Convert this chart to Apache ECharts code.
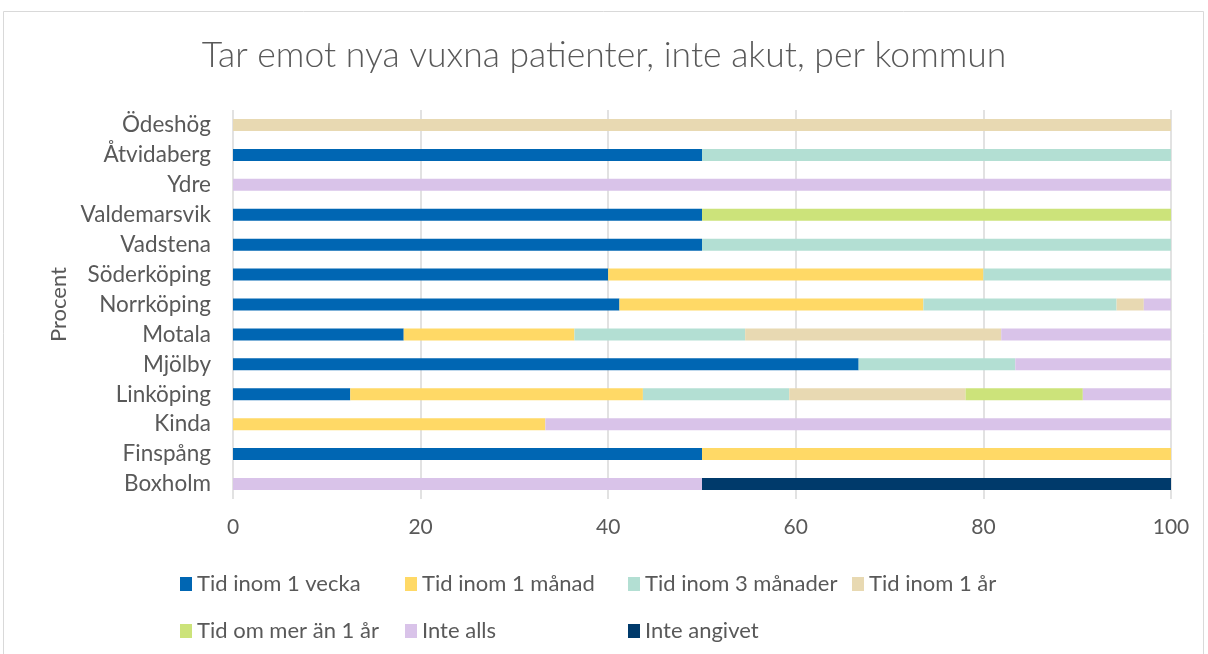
<!DOCTYPE html>
<html><head><meta charset="utf-8">
<script src="https://cdn.jsdelivr.net/npm/echarts@6/dist/echarts.min.js"></script>
<style>html,body{margin:0;padding:0;background:#fff}#c{width:1208px;height:654px}</style>
</head><body><div id="c"></div>
<script>
const categories = ['Boxholm','Finspång','Kinda','Linköping','Mjölby','Motala','Norrköping','Söderköping','Vadstena','Valdemarsvik','Ydre','Åtvidaberg','Ödeshög'];
const seriesNames = ['Tid inom 1 vecka','Tid inom 1 månad','Tid inom 3 månader','Tid inom 1 år','Tid om mer än 1 år','Inte alls','Inte angivet'];
const vecka    = [null,50,null,12.5,66.7,18.2,41.2,40,50,50,null,50,null];
const manad    = [null,50,33.3,31.2,null,18.2,32.4,40,null,null,null,null,null];
const tremanad = [null,null,null,15.6,16.7,18.2,20.6,20,50,null,null,50,null];
const ettar    = [null,null,null,18.8,null,27.3,2.9,null,null,null,null,null,100];
const merAr    = [null,null,null,12.5,null,null,null,null,null,50,null,null,null];
const inteAlls = [50,null,66.7,9.4,16.7,18.1,2.9,null,null,null,100,null,null];
const inteAngivet = [50,null,null,null,null,null,null,null,null,null,null,null,null];
const xTicks = [0,20,40,60,80,100];

const values = [vecka, manad, tremanad, ettar, merAr, inteAlls, inteAngivet];
const colors = ['#0066B3','#FFD966','#B3DFD3','#E8D9B2','#CCE37A','#D9C3E9','#003A6B'];
const FONT = 'Lato';

const chart = echarts.init(document.getElementById('c'));
const legendPos = [[175,568],[400,568],[623,568],[847,568],[175,615],[400,615],[623,615]];
const legends = seriesNames.map((n,i)=>({
  data:[n], left:legendPos[i][0], top:legendPos[i][1], itemWidth:12, itemHeight:14, itemGap:4,
  icon:'rect', textStyle:{fontSize:22, color:'#595959', fontFamily:FONT}
}));
chart.setOption({
  backgroundColor:'#fff',
  animation:false,
  title:{text:'Tar emot nya vuxna patienter, inte akut, per kommun', left:'center', top:33,
    textStyle:{fontSize:35.5, fontWeight:300, color:'#595959', fontFamily:FONT}},
  graphic:[{type:'rect', shape:{x:3.5,y:11.5,width:1200,height:660}, style:{fill:null, stroke:'#D9D9D9', lineWidth:1}, silent:true}],
  legend:legends,
  grid:{left:233, right:37, top:110, bottom:155},
  xAxis:{type:'value', min:xTicks[0], max:xTicks[xTicks.length-1], interval:20,
    axisLine:{show:false}, axisTick:{show:false},
    axisLabel:{fontSize:21, color:'#595959', fontFamily:FONT, margin:18},
    splitLine:{lineStyle:{color:'#D9D9D9', width:1.5}}},
  yAxis:{type:'category', data:categories, name:'Procent', nameLocation:'middle', nameRotate:90, nameGap:162,
    nameTextStyle:{fontSize:22, color:'#595959', fontFamily:FONT},
    axisLine:{show:false}, axisTick:{show:false},
    axisLabel:{fontSize:22.5, color:'#595959', fontFamily:FONT, margin:22}},
  series: seriesNames.map((n,i)=>({
    name:n, type:'bar', stack:'total', data:values[i], barWidth:12,
    itemStyle:{color:colors[i]}
  }))
});
</script></body></html>
